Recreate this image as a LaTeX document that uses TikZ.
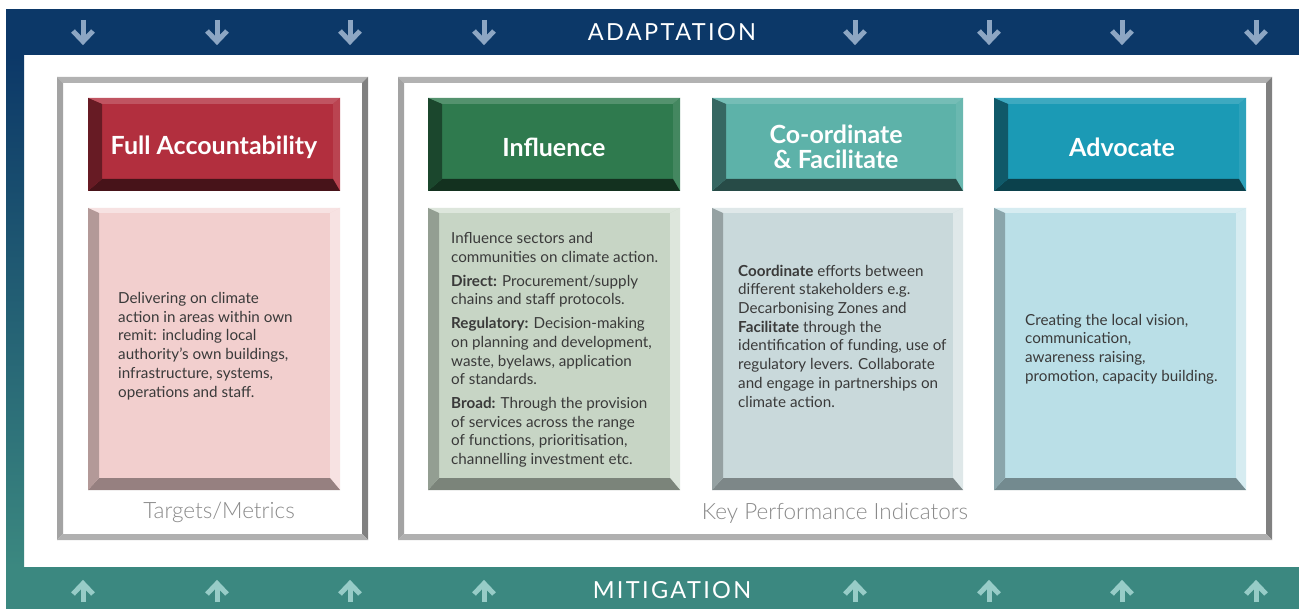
\documentclass[tikz,border=0pt]{standalone}
\usepackage{fontspec}
\setmainfont{Lato}
\newfontfamily\lightfont{Lato Light}
\usetikzlibrary{calc}
\definecolor{topbar}{HTML}{0C3868}
\definecolor{botbar}{HTML}{3B8880}
\definecolor{toparrow}{HTML}{8DA6C3}
\definecolor{botarrow}{HTML}{97CCC7}
\definecolor{redh}{HTML}{B22F3E}
\definecolor{greenh}{HTML}{2F7A4E}
\definecolor{tealh}{HTML}{5DB2A9}
\definecolor{blueh}{HTML}{1B9AB5}
\definecolor{redb}{HTML}{F2CFCE}
\definecolor{greenb}{HTML}{C7D5C5}
\definecolor{tealb}{HTML}{C9D9DB}
\definecolor{blueb}{HTML}{BADFE7}
\definecolor{bodytext}{HTML}{3A3A3A}
\definecolor{labelgray}{HTML}{8A8A8A}
% bevel colour set: #1 name, #2 left-dark %, #3 bottom-dark %, #4 top-tint %, #5 right-tint %
\newcommand\bevcolors[5]{%
  \colorlet{#1L}{#1!#2!black}%
  \colorlet{#1B}{#1!#3!black}%
  \colorlet{#1T}{#1!#4!white}%
  \colorlet{#1R}{#1!#5!white}%
}
\bevcolors{redh}{58}{40}{82}{90}
\bevcolors{greenh}{58}{40}{82}{90}
\bevcolors{tealh}{58}{42}{85}{92}
\bevcolors{blueh}{58}{42}{85}{92}
\bevcolors{redb}{74}{62}{60}{60}
\bevcolors{greenb}{74}{62}{60}{60}
\bevcolors{tealb}{74}{62}{60}{60}
\bevcolors{blueb}{74}{62}{60}{60}
% #1 x1 #2 y1 #3 x2 #4 y2 #5 colour #6 left #7 top #8 right #9 bottom widths
\newcommand\bevbox[9]{%
  \fill[#5] (#1,#2) rectangle (#3,#4);
  \fill[#5T] (#1,#2) -- (#3,#2) -- (#3-#8,#2+#7) -- (#1+#6,#2+#7) -- cycle;
  \fill[#5R] (#3,#2) -- (#3,#4) -- (#3-#8,#4-#9) -- (#3-#8,#2+#7) -- cycle;
  \fill[#5B] (#1,#4) -- (#3,#4) -- (#3-#8,#4-#9) -- (#1+#6,#4-#9) -- cycle;
  \fill[#5L] (#1,#2) -- (#1,#4) -- (#1+#6,#4-#9) -- (#1+#6,#2+#7) -- cycle;
}
\newcommand\grayframe[4]{%
  \fill[white] (#1,#2) rectangle (#3,#4);
  \fill[gray!60] (#1,#2) -- (#3,#2) -- (#3-6,#2+6) -- (#1+6,#2+6) -- cycle;
  \fill[gray!72] (#1,#2) -- (#1,#4) -- (#1+6,#4-6) -- (#1+6,#2+6) -- cycle;
  \fill[gray!100] (#3,#2) -- (#3,#4) -- (#3-6,#4-6) -- (#3-6,#2+6) -- cycle;
  \fill[gray!62] (#1,#4) -- (#3,#4) -- (#3-6,#4-6) -- (#1+6,#4-6) -- cycle;
}
\tikzset{
  dnarrow/.style={draw=toparrow, line width=5pt},
  uparrow/.style={draw=botarrow, line width=5pt},
  bartext/.style={text=white, font=\addfontfeatures{LetterSpace=10}\fontsize{23.5}{26}\selectfont},
  headtext/.style={text=white, font=\bfseries\fontsize{25}{25}\selectfont, align=center},
  bodytxt/.style={text=bodytext, font=\fontsize{15.2}{18.7}\selectfont, align=left, anchor=west, inner sep=0pt},
  labeltxt/.style={text=labelgray, font=\lightfont\fontsize{22.5}{24}\selectfont},
}
\begin{document}
\begin{tikzpicture}[x=1pt,y=-1pt]
\useasboundingbox (0,0) rectangle (1299,609);
\fill[white] (0,0) rectangle (1299,609);
% bars
\fill[topbar] (6,9) rectangle (1299,55);
\shade[top color=topbar, bottom color=botbar] (6,55) rectangle (24,567);
\fill[botbar] (6,567) rectangle (1299,609);
\foreach \x in {83,217,350,484,855,989,1122,1256} {
  \draw[dnarrow] (\x,20) -- (\x,41);
  \draw[dnarrow, line join=miter, line cap=butt] (\x-10,31) -- (\x,41.5) -- (\x+10,31);
  \draw[uparrow] (\x,602) -- (\x,584);
  \draw[uparrow, line join=miter, line cap=butt] (\x-10,594) -- (\x,583.5) -- (\x+10,594);
}
\node[bartext] (adapt) at (672,32) {ADAPTATION};
\node[bartext] (mitig) at (672,590) {MITIGATION};
% frames
\grayframe{57}{77}{368}{540}
\grayframe{398}{77}{1272}{540}
% headers
\bevbox{88}{98}{340}{191}{redh}{14}{6}{7}{12}
\bevbox{428}{98}{680}{191}{greenh}{14}{6}{7}{12}
\bevbox{712}{98}{963}{191}{tealh}{14}{6}{7}{12}
\bevbox{994}{98}{1246}{191}{blueh}{14}{6}{7}{12}
\node[headtext] (hfull) at (214,147) {Full Accountability};
\node[headtext] (hinf) at (554,147) {Influence};
\node[headtext] (hcoord) at (836,147) {Co-ordinate\\\& Facilitate};
\node[headtext] (hadv) at (1122,147) {Advocate};
% bodies
\bevbox{88}{208}{340}{490}{redb}{11}{5}{10}{12}
\bevbox{428}{208}{680}{490}{greenb}{11}{5}{10}{12}
\bevbox{712}{208}{963}{490}{tealb}{11}{5}{10}{12}
\bevbox{994}{208}{1246}{490}{blueb}{11}{5}{10}{12}
\node[bodytxt] (tfull) at (118,346) {Delivering on climate\\action in areas within own\\remit: including local\\authority's own buildings,\\infrastructure, systems,\\operations and staff.};
\node[bodytxt] (tinf) at (451,350) {Influence sectors and\\communities on climate action.\\[5pt]\textbf{Direct:} Procurement/supply\\chains and staff protocols.\\[5pt]\textbf{Regulatory:} Decision-making\\on planning and development,\\waste, byelaws, application\\of standards.\\[5pt]\textbf{Broad:} Through the provision\\of services across the range\\of functions, prioritisation,\\channelling investment etc.};
\node[bodytxt] (tcoord) at (738,336) {\textbf{Coordinate} efforts between\\different stakeholders e.g.\\Decarbonising Zones and\\\textbf{Facilitate} through the\\identification of funding, use of\\regulatory levers. Collaborate\\and engage in partnerships on\\climate action.};
\node[bodytxt] (tadv) at (1025,349) {Creating the local vision,\\communication,\\awareness raising,\\promotion, capacity building.};
% labels
\node[labeltxt] (lfull) at (219,512) {Targets/Metrics};
\node[labeltxt] (lkpi) at (835,513) {Key Performance Indicators};
\end{tikzpicture}
\end{document}
